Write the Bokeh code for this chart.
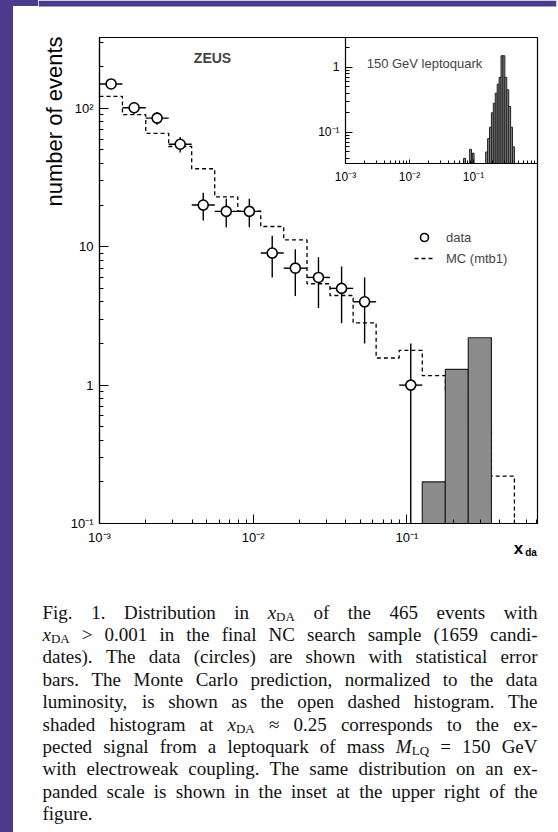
import math
from bokeh.plotting import figure
from bokeh.models import (Range1d, FixedTicker, CustomJSTickFormatter, Label, Legend,
                          LegendItem, ColumnDataSource, Spacer, GlobalInlineStyleSheet)
from bokeh.layouts import column
from bokeh.embed import file_html
from bokeh.resources import INLINE
from bokeh.core.properties import value

# ---------------- data ----------------
bin_edges = [0.001, 0.00141, 0.00200, 0.00282, 0.00398, 0.00562, 0.00794, 0.0112, 0.0158, 0.0224,
             0.0316, 0.0447, 0.0631, 0.0891, 0.126, 0.178, 0.251, 0.355, 0.501, 0.708]
data_bin = [0, 1, 2, 3, 4, 5, 6, 7, 8, 9, 10, 11, 13]
data_x = [0.00119, 0.00168, 0.00237, 0.00335, 0.00473, 0.00668, 0.00944, 0.0133, 0.0188,
          0.0266, 0.0376, 0.0531, 0.106]
data_n = [150, 101, 85, 55, 20, 18, 18, 9, 7, 6, 5, 4, 1]
data_lo = [138, 91, 76, 48, 15.5, 13.8, 13.8, 6, 4.4, 3.6, 2.8, 2, 0.1]
data_hi = [162, 111, 94, 62, 24.5, 22.2, 22.2, 12, 9.6, 8.4, 7.2, 6, 2]
mc_n = [122, 90, 66, 53, 36.6, 22.9, 18.1, 14.0, 11.2, 5.4, 4.44, 2.82, 1.57, 1.78, 1.17,
        0.9, 0.5, 0.22]
lq_bin = [14, 15, 16]
lq_n = [0.2, 1.3, 2.2]

inset_edges = [0.1549, 0.1660, 0.1778, 0.1905, 0.2042, 0.2188, 0.2344, 0.2512, 0.2692,
               0.2884, 0.3090, 0.3311, 0.3548, 0.3802, 0.4074, 0.4365]
inset_n = [0.05, 0.08, 0.12, 0.2, 0.28, 0.4, 0.55, 0.7, 1.5, 1.5, 0.7, 0.45, 0.25, 0.12, 0.06]
inset_small_left = [0.070, 0.087, 0.096]
inset_small_right = [0.075, 0.093, 0.102]
inset_small_n = [0.040, 0.055, 0.048]

x_ticks = [0.001, 0.01, 0.1]
y_ticks = [0.1, 1, 10, 100]
inset_x_ticks = [0.001, 0.01, 0.1]
inset_y_ticks = [0.1, 1]

XR = (0.001, 0.708)
YR = (0.1, 325.0)
IXR = (0.001, 1.0)
IYR = (0.0333, 2.86)

PURPLE = "#4a3b8d"
SANS = "Liberation Sans"
SERIF = "Liberation Serif"

# ---------------- page geometry (pixels) ----------------
LC, RC = 38, 2                  # common left/right borders (the column aligns them)
MAIN_F = (99, 537, 37, 523)     # main frame: left, right, top, bottom
INS_F = (345, 537, 37, 163)     # inset frame
PAGE_W, PAGE_H = 558, 832
PANEL_L, PANEL_T = 13, 6        # white panel starts here; purple margin outside
MAIN_H = 574
OV_H = PAGE_H


def mx(px):
    a, b = math.log10(XR[0]), math.log10(XR[1])
    return 10 ** (a + (px - MAIN_F[0]) / (MAIN_F[1] - MAIN_F[0]) * (b - a))


def my(py):
    a, b = math.log10(YR[0]), math.log10(YR[1])
    return 10 ** (b - (py - MAIN_F[2]) / (MAIN_F[3] - MAIN_F[2]) * (b - a))


FMT = """
const e = Math.round(Math.log10(tick));
if (e == 0) { return "1"; }
if (e == 1) { return "10"; }
const sup = {"0":"\u2070","1":"\u00b9","2":"\u00b2","3":"\u00b3","4":"\u2074","5":"\u2075",
             "6":"\u2076","7":"\u2077","8":"\u2078","9":"\u2079","-":"\u207b"};
let s = "";
for (const c of String(e)) { s += sup[c]; }
return "10" + s;
"""


def minors(lo, hi):
    out = []
    for d in range(-5, 4):
        for k in range(2, 10):
            v = k * 10 ** d
            if lo < v < hi:
                out.append(v)
    return out


def style_axis(ax, ticks, lo, hi, fs, tin, tmin):
    ax.ticker = FixedTicker(ticks=ticks, minor_ticks=minors(lo, hi))
    ax.formatter = CustomJSTickFormatter(code=FMT)
    ax.major_tick_in = tin
    ax.major_tick_out = 0
    ax.minor_tick_in = tmin
    ax.minor_tick_out = 0
    ax.axis_line_color = "black"
    ax.axis_line_width = 1.2
    ax.major_tick_line_color = "black"
    ax.minor_tick_line_color = "black"
    ax.major_label_text_font = SANS
    ax.major_label_text_font_size = fs
    ax.major_label_text_color = "black"
    ax.major_label_standoff = 6


# ---------------- purple page margins (left strip and top-left corner) ----------------
edge_bg = (f"linear-gradient(to right, {PURPLE} 0px, {PURPLE} {PANEL_L}px, transparent {PANEL_L}px), "
           f"linear-gradient(to bottom, {PURPLE} 0px, {PURPLE} {PANEL_T}px, transparent {PANEL_T}px)")
left_strip = Spacer(width=LC, height=OV_H, styles={"background": edge_bg})
left_strip.margin = (0, 0, -OV_H, 0)

# ---------------- main figure ----------------
p = figure(width=LC + (MAIN_F[1] - MAIN_F[0]) + RC, height=MAIN_H,
           x_axis_type="log", y_axis_type="log",
           x_range=Range1d(*XR), y_range=Range1d(*YR),
           output_backend="svg", toolbar_location=None,
           min_border_left=LC, min_border_right=RC,
           min_border_top=MAIN_F[2] - PANEL_T,
           min_border_bottom=PANEL_T + MAIN_H - MAIN_F[3])
p.margin = (PANEL_T, 0, 0, MAIN_F[0] - LC)
p.grid.visible = False
p.outline_line_color = "black"
p.outline_line_width = 1.2
p.background_fill_color = "white"
p.border_fill_color = "white"
style_axis(p.xaxis[0], x_ticks, XR[0], XR[1], "13px", 9, 4)
style_axis(p.yaxis[0], y_ticks, YR[0], YR[1], "13px", 9, 4)

# MC dashed histogram
mc_x, mc_y = [], []
for i, n in enumerate(mc_n):
    mc_x += [bin_edges[i], bin_edges[i + 1]]
    mc_y += [n, n]
mc_x.append(bin_edges[len(mc_n)])
mc_y.append(YR[0])
mc_r = p.line(mc_x, mc_y, line_color="black", line_width=1.3, line_dash="4 3")

# leptoquark signal (shaded)
p.quad(left=[bin_edges[b] for b in lq_bin], right=[bin_edges[b + 1] for b in lq_bin],
       bottom=YR[0], top=lq_n, fill_color="#8c8c8c", line_color="#222222", line_width=1.2)

# data with error bars
src = ColumnDataSource(dict(
    x=data_x, n=data_n, lo=data_lo, hi=data_hi,
    xl=[bin_edges[b] for b in data_bin], xr=[bin_edges[b + 1] for b in data_bin]))
p.segment(x0="xl", y0="n", x1="xr", y1="n", source=src, line_color="black", line_width=1.4)
p.segment(x0="x", y0="lo", x1="x", y1="hi", source=src, line_color="black", line_width=1.4)
circ_r = p.scatter("x", "n", source=src, marker="circle", size=10, fill_color="white",
                   line_color="black", line_width=1.6)

leg = Legend(items=[LegendItem(label="data", renderers=[circ_r]),
                    LegendItem(label="MC (mtb1)", renderers=[mc_r])],
             location=(414 - MAIN_F[0], MAIN_F[3] - 268), padding=0, margin=0,
             border_line_color=None, background_fill_alpha=0, label_text_font=SANS,
             label_text_font_size="13px", glyph_width=20, glyph_height=20, label_height=20,
             spacing=1, label_standoff=12)
p.add_layout(leg)

p.add_layout(Label(x=mx(212), y=my(57), text="ZEUS", text_font=SANS, text_font_size="14px",
                   text_font_style="bold", text_align="center", text_baseline="middle"))
p.add_layout(Label(x=mx(424), y=my(63), text="150 GeV leptoquark", text_font=SANS,
                   text_font_size="13px", text_align="center", text_baseline="middle"))

# ---------------- inset figure (overlaid on the main one) ----------------
IB = 26
ins_h = (INS_F[3] - INS_F[2]) + IB
ins = figure(width=LC + (INS_F[1] - INS_F[0]) + RC, height=ins_h,
             x_axis_type="log", y_axis_type="log",
             x_range=Range1d(*IXR), y_range=Range1d(*IYR),
             output_backend="svg", toolbar_location=None,
             min_border_left=LC, min_border_right=RC, min_border_top=0, min_border_bottom=IB)
ins.grid.visible = False
ins.outline_line_color = None
ins.background_fill_color = None
ins.border_fill_color = None
style_axis(ins.xaxis[0], inset_x_ticks, IXR[0], IXR[1], "12px", 4, 3)
style_axis(ins.yaxis[0], inset_y_ticks, IYR[0], IYR[1], "12px", 7, 4)
ins.quad(left=inset_edges[:-1], right=inset_edges[1:], bottom=IYR[0], top=inset_n,
         fill_color="#8c8c8c", line_color="#222222", line_width=1)
ins.quad(left=inset_small_left, right=inset_small_right, bottom=IYR[0], top=inset_small_n,
         fill_color="#8c8c8c", line_color="#222222", line_width=1)
ins.margin = (INS_F[2] - (PANEL_T + MAIN_H), 0, 0, INS_F[0] - LC)

# ---------------- overlay in page pixels: top margin and free texts ----------------
OV_W = PAGE_W
OV_FL, OV_FR = LC, OV_W - RC           # overlay frame, page x
ov = figure(width=OV_W, height=OV_H,
            x_range=Range1d(OV_FL, OV_FR), y_range=Range1d(OV_H, 0),
            x_axis_type=None, y_axis_type=None, output_backend="svg",
            toolbar_location=None, min_border_left=LC, min_border_right=RC,
            min_border_top=0, min_border_bottom=0)
ov.outline_line_color = None
ov.grid.visible = False
ov.background_fill_color = None
ov.border_fill_color = None
ov.margin = (-(INS_F[2] + ins_h), 0, 0, 0)

# purple band along the top of the page
ov.quad(left=[OV_FL], right=[OV_FR], top=[0], bottom=[PANEL_T], fill_color=PURPLE,
        line_color=None)

ov.text(x=[54], y=[121], text=["number of events"], angle=math.pi / 2,
        text_font=value(SANS), text_font_size="22px", text_align="center",
        text_baseline="middle", text_color="black")
ov.text(x=[518], y=[548], text=["x"], text_font=value(SANS), text_font_size="17px",
        text_font_style="bold", text_align="center", text_baseline="middle")
ov.text(x=[530.5], y=[552], text=["da"], text_font=value(SANS), text_font_size="10px",
        text_font_style="bold", text_align="center", text_baseline="middle")

# caption (justified like the printed figure caption)
TIMES = {' ': 250, '(': 333, ')': 333, ',': 250, '-': 333, '.': 250, ':': 278, ';': 278,
         '<': 564, '=': 564, '>': 564, '\u2248': 549,
         'A': 722, 'B': 667, 'C': 667, 'D': 722, 'E': 611, 'F': 556, 'G': 722, 'H': 722,
         'I': 333, 'J': 389, 'K': 722, 'L': 611, 'M': 889, 'N': 722, 'O': 722, 'P': 556,
         'Q': 722, 'R': 667, 'S': 556, 'T': 611, 'U': 722, 'V': 722, 'W': 944, 'X': 722,
         'Y': 722, 'Z': 611,
         'a': 444, 'b': 500, 'c': 444, 'd': 500, 'e': 444, 'f': 333, 'g': 500, 'h': 500,
         'i': 278, 'j': 278, 'k': 500, 'l': 278, 'm': 778, 'n': 500, 'o': 500, 'p': 500,
         'q': 500, 'r': 333, 's': 389, 't': 278, 'u': 500, 'v': 500, 'w': 722, 'x': 500,
         'y': 500, 'z': 444}
TIMES_I = {'x': 444, 'M': 833}

CAPTION = [
    "Fig. 1. Distribution in {x|DA} of the 465 events with",
    "{x|DA} > 0.001 in the final NC search sample (1659 candi-",
    "dates). The data (circles) are shown with statistical error",
    "bars. The Monte Carlo prediction, normalized to the data",
    "luminosity, is shown as the open dashed histogram. The",
    "shaded histogram at {x|DA} \u2248 0.25 corresponds to the ex-",
    "pected signal from a leptoquark of mass {M|LQ} = 150 GeV",
    "with electroweak coupling. The same distribution on an ex-",
    "panded scale is shown in the inset at the upper right of the",
    "figure.",
]
FS, SUBFS = 19.0, 13.0
CAP_L, CAP_R = 42, 537
BASE0, LSTEP = 611.5, 22.4


def run_w(t, st):
    if st == "r":
        return sum(TIMES.get(c, 500) for c in t) * FS / 1000.0
    if st == "i":
        return sum(TIMES_I.get(c, TIMES.get(c, 500)) for c in t) * FS / 1000.0
    return sum(TIMES.get(c, 500) for c in t) * SUBFS / 1000.0


def parse_word(w):
    if w.startswith("{"):
        a, b = w[1:-1].split("|")
        return [(a, "i"), (b, "s")]
    return [(w, "r")]


cols = {"r": dict(x=[], y=[], t=[]), "i": dict(x=[], y=[], t=[]), "s": dict(x=[], y=[], t=[])}
for li, line in enumerate(CAPTION):
    words = [parse_word(w) for w in line.split(" ")]
    widths = [sum(run_w(t, s) for t, s in wd) for wd in words]
    base = BASE0 + li * LSTEP
    if li < len(CAPTION) - 1 and len(words) > 1:
        gap = (CAP_R - CAP_L - sum(widths)) / (len(words) - 1)
    else:
        gap = 0.25 * FS
    xcur = CAP_L
    for wd, ww in zip(words, widths):
        xx = xcur
        for t, s in wd:
            cols[s]["x"].append(xx)
            cols[s]["y"].append(base + (4.0 if s == "s" else 0.0))
            cols[s]["t"].append(t)
            xx += run_w(t, s)
        xcur += ww + gap

ov.text(x=cols["r"]["x"], y=cols["r"]["y"], text=cols["r"]["t"], text_font=value(SERIF),
        text_font_size="19px", text_baseline="alphabetic", text_align="left",
        text_color="#111111")
ov.text(x=cols["i"]["x"], y=cols["i"]["y"], text=cols["i"]["t"], text_font=value(SERIF),
        text_font_size="19px", text_font_style="italic", text_baseline="alphabetic",
        text_align="left", text_color="#111111")
ov.text(x=cols["s"]["x"], y=cols["s"]["y"], text=cols["s"]["t"], text_font=value(SERIF),
        text_font_size="13px", text_baseline="alphabetic", text_align="left",
        text_color="#111111")

page_css = GlobalInlineStyleSheet(
    css="html, body { margin: 0; padding: 0; overflow: hidden; background: white; }")
layout = column(left_strip, p, ins, ov, stylesheets=[page_css])
open("out.html", "w").write(file_html(layout, INLINE))
